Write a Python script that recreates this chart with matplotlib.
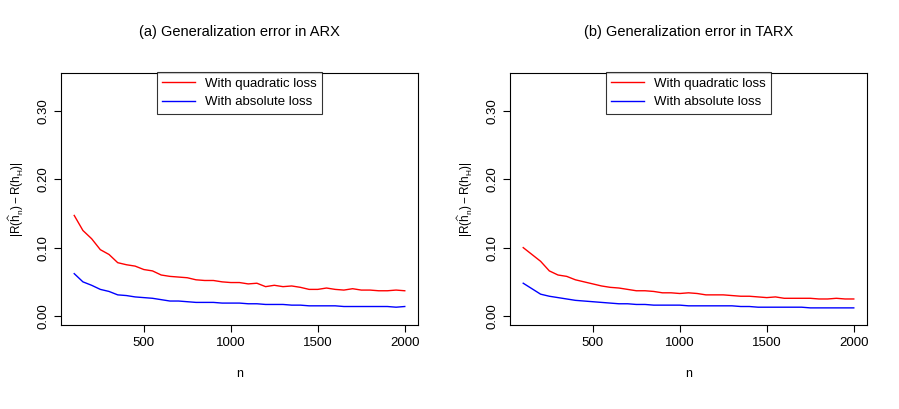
import numpy as np
import matplotlib.pyplot as plt

n = list(range(100, 2001, 50))
arx_quad = [0.147,0.125,0.113,0.097,0.090,0.078,0.075,0.073,0.068,0.066,0.060,0.058,0.057,0.056,0.053,0.052,0.052,0.050,0.049,0.049,0.047,0.048,0.043,0.045,0.043,0.044,0.042,0.039,0.039,0.041,0.039,0.038,0.040,0.038,0.038,0.037,0.037,0.038,0.037]
arx_abs = [0.062,0.050,0.045,0.039,0.036,0.031,0.030,0.028,0.027,0.026,0.024,0.022,0.022,0.021,0.020,0.020,0.020,0.019,0.019,0.019,0.018,0.018,0.017,0.017,0.017,0.016,0.016,0.015,0.015,0.015,0.015,0.014,0.014,0.014,0.014,0.014,0.014,0.013,0.014]
tarx_quad = [0.100,0.090,0.080,0.066,0.060,0.058,0.053,0.050,0.047,0.044,0.042,0.041,0.039,0.037,0.037,0.036,0.034,0.034,0.033,0.034,0.033,0.031,0.031,0.031,0.030,0.029,0.029,0.028,0.027,0.028,0.026,0.026,0.026,0.026,0.025,0.025,0.026,0.025,0.025]
tarx_abs = [0.048,0.040,0.032,0.029,0.027,0.025,0.023,0.022,0.021,0.020,0.019,0.018,0.018,0.017,0.017,0.016,0.016,0.016,0.016,0.015,0.015,0.015,0.015,0.015,0.015,0.014,0.014,0.013,0.013,0.013,0.013,0.013,0.013,0.012,0.012,0.012,0.012,0.012,0.012]
titles = ["(a) Generalization error in ARX", "(b) Generalization error in TARX"]
yticks = [0.00, 0.10, 0.20, 0.30]
xticks = [500, 1000, 1500, 2000]

W, H = 899, 409
plt.rcParams['font.family'] = 'Liberation Sans'
plt.rcParams['mathtext.default'] = 'regular'
fig = plt.figure(figsize=(W/100, H/100), dpi=100)
panels = [(61, arx_quad, arx_abs, titles[0]), (510, tarx_quad, tarx_abs, titles[1])]
for left, q, a, t in panels:
    ax = fig.add_axes([left/W, 1-325/H, 357/W, 252/H])
    ax.plot(n, q, color='red', lw=1, label='With quadratic loss')
    ax.plot(n, a, color='blue', lw=1, label='With absolute loss')
    ax.set_xlim(24, 2076)
    ax.set_ylim(-0.013, 0.355)
    ax.set_xticks(xticks)
    ax.set_yticks(yticks)
    ax.set_yticklabels([f"{v:.2f}" for v in yticks], rotation=90, va='center')
    ax.tick_params(labelsize=9.5, length=5)
    ax.set_title(t, fontsize=10.5, pad=27)
    ax.set_xlabel('n', fontsize=9, labelpad=14)
    ax.set_ylabel(r'$|R(\widehat{h}_n)-R(h_H)|$', fontsize=8.5, labelpad=8)
    leg = ax.legend(loc='upper center', bbox_to_anchor=(0.5, 1.03), fontsize=9.5,
                    frameon=True, fancybox=False, edgecolor='black', handlelength=2.5)
    leg.get_frame().set_linewidth(0.8)
fig.savefig('out.png', dpi=100)
